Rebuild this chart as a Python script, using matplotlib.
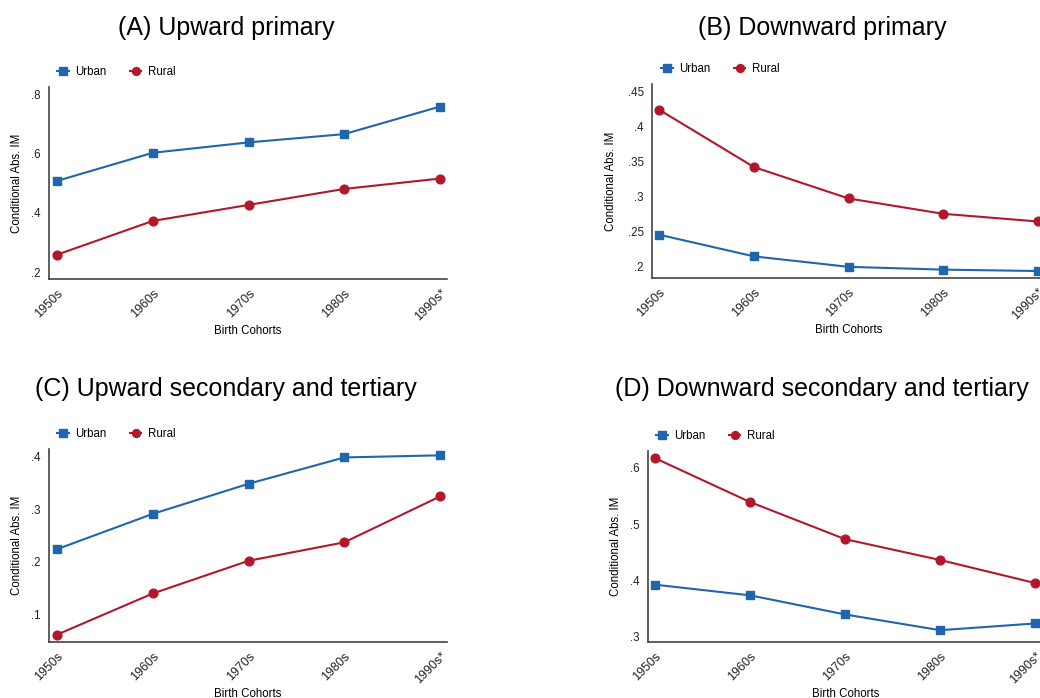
import matplotlib
matplotlib.use("Agg")
import matplotlib.pyplot as plt
from matplotlib.ticker import FuncFormatter

plt.rcParams['font.family'] = ['Liberation Sans', 'DejaVu Sans']

# Datos de cada panel
cohortes = ["1950s", "1960s", "1970s", "1980s", "1990s*"]

urbano_a = [0.508, 0.603, 0.638, 0.666, 0.759]
rural_a = [0.259, 0.373, 0.427, 0.481, 0.516]

urbano_b = [0.245, 0.214, 0.199, 0.195, 0.193]
rural_b = [0.424, 0.342, 0.297, 0.275, 0.264]

urbano_c = [0.224, 0.291, 0.348, 0.398, 0.402]
rural_c = [0.062, 0.140, 0.202, 0.237, 0.324]

urbano_d = [0.392, 0.373, 0.339, 0.311, 0.323]
rural_d = [0.617, 0.539, 0.473, 0.436, 0.395]

titulos = ["(A) Upward primary", "(B) Downward primary",
           "(C) Upward secondary and tertiary", "(D) Downward secondary and tertiary"]

azul = "#2166ac"
rojo = "#b2182b"

W, H = 1040, 698
fig = plt.figure(figsize=(W / 100, H / 100), dpi=100)


def caja(x0, y0, x1, y1):
    # pixeles -> fracciones de figura
    return [x0 / W, 1 - y1 / H, (x1 - x0) / W, (y1 - y0) / H]


def sin_cero(v, pos):
    s = f"{v:g}"
    return s[1:] if s.startswith("0") else s


paneles = [
    # datos, caja en px, xlim, ylim, yticks, x del ylabel, y de la leyenda, x de la leyenda
    (urbano_a, rural_a, (49, 87, 447, 279), (-0.084, 4.073), (0.177, 0.825), [0.2, 0.4, 0.6, 0.8], -0.066, 72, 57),
    (urbano_b, rural_b, (652, 84, 1045, 278), (-0.077, 4.077), (0.183, 0.461), [0.2, 0.25, 0.3, 0.35, 0.4, 0.45], -0.088, 69, 661),
    (urbano_c, rural_c, (49, 449, 447, 642), (-0.084, 4.073), (0.048, 0.414), [0.1, 0.2, 0.3, 0.4], -0.066, 434, 57),
    (urbano_d, rural_d, (648, 451, 1043, 642), (-0.077, 4.084), (0.290, 0.630), [0.3, 0.4, 0.5, 0.6], -0.066, 436, 656),
]

centros_titulo = [(226, 28), (822, 28), (226, 389), (822, 389)]

for i, (urb, rur, px, xl, yl, yt, ylx, legy, legx) in enumerate(paneles):
    ax = fig.add_axes(caja(*px))
    x = range(len(cohortes))
    ax.plot(x, urb, color=azul, lw=1.5, marker="s", ms=6.3, label="Urban")
    ax.plot(x, rur, color=rojo, lw=1.5, marker="o", ms=6.3, label="Rural")
    ax.set_xlim(*xl)
    ax.set_ylim(*yl)
    ax.set_yticks(yt)
    ax.yaxis.set_major_formatter(FuncFormatter(sin_cero))
    ax.set_xticks(list(x))
    ax.set_xticklabels(cohortes, rotation=45, ha="right", rotation_mode="anchor")
    ax.tick_params(length=0, colors="#222222", pad=6)
    ax.tick_params(axis="x", labelsize=9)
    ax.tick_params(axis="y", labelsize=8.3)
    for lado in ["top", "right"]:
        ax.spines[lado].set_visible(False)
    for lado in ["left", "bottom"]:
        ax.spines[lado].set_color("#444444")
        ax.spines[lado].set_linewidth(1.2)
    ax.set_ylabel("Conditional Abs. IM", fontsize=8.3)
    ax.yaxis.set_label_coords(ylx, 0.5)
    ax.set_xlabel("Birth Cohorts", fontsize=8.3)
    ax.xaxis.set_label_coords(0.5, -0.27)
    ax.xaxis.label.set_va("center")
    ax.legend(loc="center left", bbox_to_anchor=(legx / W, 1 - legy / H),
              bbox_transform=fig.transFigure, ncol=2, frameon=False,
              fontsize=8.3, handlelength=1.0, handletextpad=0.6,
              columnspacing=2.0, borderaxespad=0, borderpad=0, markerscale=0.9)
    cx, cy = centros_titulo[i]
    fig.text(cx / W, 1 - cy / H, titulos[i], ha="center", va="center", fontsize=18)

fig.savefig("out.png", dpi=100)
